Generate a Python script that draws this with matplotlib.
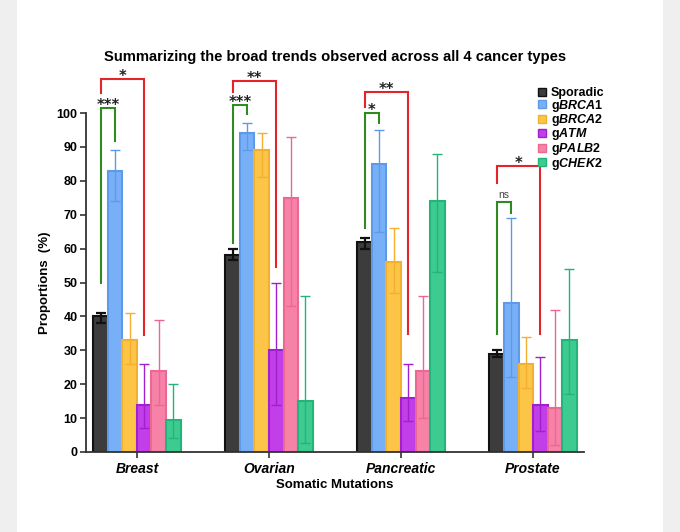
import matplotlib
matplotlib.use("Agg")
import matplotlib.pyplot as plt
import numpy as np
from matplotlib.patches import Rectangle, Patch

plt.rcParams["font.family"] = ["Liberation Sans", "DejaVu Sans"]
plt.rcParams["font.weight"] = "bold"
plt.rcParams["mathtext.fontset"] = "custom"
plt.rcParams["mathtext.it"] = "Liberation Sans:italic:bold"
plt.rcParams["mathtext.rm"] = "Liberation Sans:bold"

cancers = ["Breast", "Ovarian", "Pancreatic", "Prostate"]
series = ["Sporadic", r"g$\it{BRCA1}$", r"g$\it{BRCA2}$", r"g$\it{ATM}$",
          r"g$\it{PALB2}$", r"g$\it{CHEK2}$"]

# bar heights per series (Breast, Ovarian, Pancreatic, Prostate)
sporadic = [40, 58, 62, 29]
brca1 = [83, 94, 85, 44]
brca2 = [33, 89, 56, 26]
atm = [14, 30, 16, 14]
palb2 = [24, 75, 24, 13]
chek2 = [9.5, 15, 74, 33]

# error bar limits
sporadic_lo = [38, 56.5, 60, 28]
sporadic_hi = [41, 60, 63, 30]
brca1_lo = [74, 89, 65, 22]
brca1_hi = [89, 97, 95, 69]
brca2_lo = [26, 81, 47, 19]
brca2_hi = [41, 94, 66, 34]
atm_lo = [7, 14, 9, 6.3]
atm_hi = [26, 50, 26, 28]
palb2_lo = [14, 43, 10, 2.2]
palb2_hi = [39, 93, 46, 42]
chek2_lo = [4.2, 2.7, 53, 17]
chek2_hi = [20, 46, 88, 54]

values = [sporadic, brca1, brca2, atm, palb2, chek2]
lows = [sporadic_lo, brca1_lo, brca2_lo, atm_lo, palb2_lo, chek2_lo]
highs = [sporadic_hi, brca1_hi, brca2_hi, atm_hi, palb2_hi, chek2_hi]

fills = ["#3c3c3c", "#78b0f8", "#fcc548", "#c23ee8", "#f782a8", "#3ecb92"]
edges = ["#111111", "#5f9ae8", "#f3b030", "#a21fd0", "#ea6892", "#22b57a"]

# significance brackets: Sporadic vs gBRCA1 (green) and Sporadic vs gATM (red)
# (left leg bottom, top, right leg bottom, label)
green_brackets = [(50, 101.6, 91.8, "***"), (61.7, 102.4, 99.6, "***"),
                  (66, 100, 97, "*"), (34.8, 73.8, 70.6, "ns")]
red_brackets = [(106, 110, 34.5, "*"), (106.3, 109.5, 54.5, "**"),
                (101.9, 106.3, 34.8, "**"), (79.4, 84.4, 34.8, "*")]

fig = plt.figure(figsize=(6.8, 5.32), dpi=100, facecolor="#efefef")
fig.patches.append(Rectangle((17 / 680, 0), 646 / 680, 1, transform=fig.transFigure,
                             facecolor="white", edgecolor="none", zorder=-10))
ax = fig.add_axes([86 / 680, 80 / 532, 498 / 680, 339 / 532])
ax.set_facecolor("none")

w = 0.11
x = np.arange(len(cancers))
for j in range(len(series)):
    pos = x + (j - 2.5) * w
    v = np.array(values[j])
    err = [v - np.array(lows[j]), np.array(highs[j]) - v]
    ax.bar(pos, v, width=w, color=fills[j], edgecolor=edges[j], linewidth=1.5,
           label=series[j], zorder=2)
    ax.errorbar(pos, v, yerr=err, fmt="none", ecolor=edges[j],
                elinewidth=1.6 if j == 0 else 1.0, capsize=3.5,
                capthick=1.6 if j == 0 else 1.0, zorder=3)

def bracket(i, j2, spec, color, fs, fw, off, family):
    lb, top, rb, lab = spec
    x1 = x[i] - 2.5 * w
    x2 = x[i] + (j2 - 2.5) * w
    ax.plot([x1, x1, x2, x2], [lb, top, top, rb], color=color, lw=1.5,
            clip_on=False, zorder=4, solid_joinstyle="miter")
    ax.text((x1 + x2) / 2, top + off, lab, ha="center", va="baseline",
            fontsize=fs, fontweight=fw, family=family,
            color="#222222" if lab != "ns" else "#444444", clip_on=False)

for i in range(len(cancers)):
    g = green_brackets[i]
    if g[3] == "ns":
        bracket(i, 1, g, "#2f8a1f", 7.5, "normal", 1.2, "Liberation Sans")
    else:
        bracket(i, 1, g, "#2f8a1f", 10.5, "bold", -0.6, "DejaVu Sans")
    bracket(i, 3, red_brackets[i], "#e3242b", 10.5, "bold", -0.6, "DejaVu Sans")

ax.set_xlim(-0.386, 3.386)
ax.set_ylim(0, 100)
ax.set_yticks(np.arange(0, 101, 10))
ax.set_xticks(x)
ax.set_xticklabels(cancers, fontstyle="italic", fontweight="bold", fontsize=10)
ax.tick_params(axis="y", labelsize=9, direction="out", length=4, width=1.2,
               color="#333333", pad=2)
ax.tick_params(axis="x", direction="out", length=4, width=1.2, color="#333333", pad=3)
for s in ["top", "right"]:
    ax.spines[s].set_visible(False)
for s in ["left", "bottom"]:
    ax.spines[s].set_linewidth(1.3)
    ax.spines[s].set_color("#333333")

ax.set_ylabel("Proportions  (%)", fontsize=9.5, fontweight="bold", labelpad=4)
ax.set_xlabel("Somatic Mutations", fontsize=9.5, fontweight="bold", labelpad=2)
fig.text(335 / 680, 1 - 57 / 532,
         "Summarizing the broad trends observed across all 4 cancer types",
         ha="center", va="center", fontsize=10.6, fontweight="bold")

handles = [Patch(facecolor=fills[j], edgecolor=edges[j], linewidth=1.0, label=series[j])
           for j in range(len(series))]
ax.legend(handles=handles, loc="upper left", bbox_to_anchor=(538 / 680, 1 - 87 / 532),
          bbox_transform=fig.transFigure, frameon=False, fontsize=9,
          handlelength=0.65, handleheight=0.6, handletextpad=0.4,
          labelspacing=-0.12, borderpad=0, borderaxespad=0)

fig.savefig("out.png", dpi=100, facecolor=fig.get_facecolor())
